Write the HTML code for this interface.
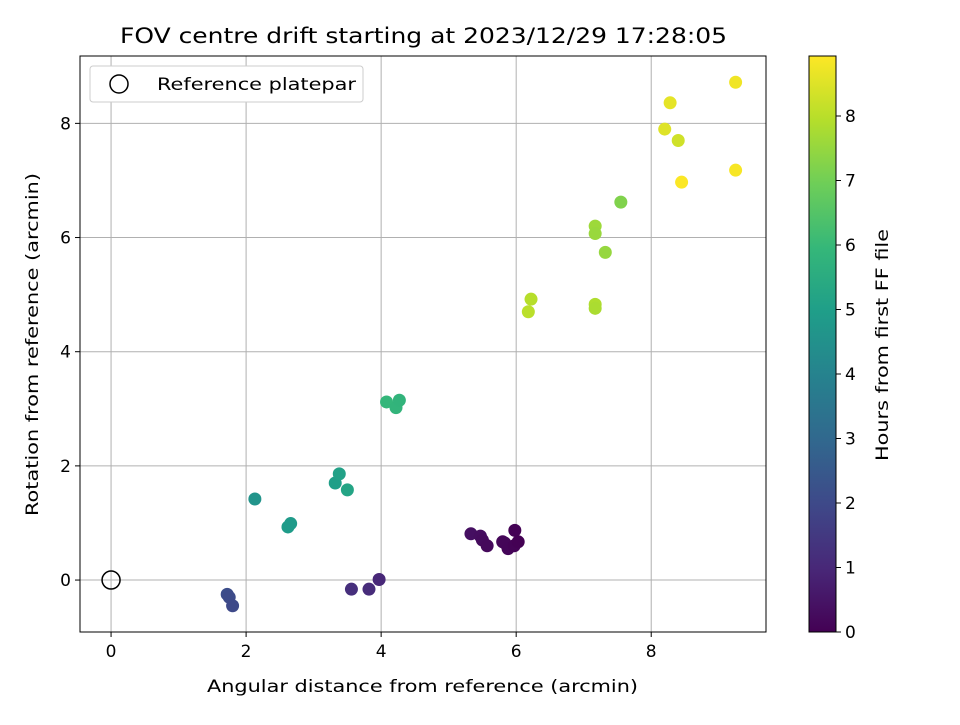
<!DOCTYPE html>
<html><head><meta charset="utf-8"><style>
body{margin:0;background:#fff;font-family:"Liberation Sans","DejaVu Sans",sans-serif}
svg text{font-family:"DejaVu Sans","Liberation Sans",sans-serif;fill:#000}
</style></head><body>
<svg id="c" width="960" height="720" xmlns="http://www.w3.org/2000/svg">
<defs><linearGradient id="vg" x1="0" y1="1" x2="0" y2="0">
<stop offset="0" stop-color="#440154"/><stop offset="0.111" stop-color="#482878"/><stop offset="0.222" stop-color="#3e4989"/><stop offset="0.333" stop-color="#31688e"/><stop offset="0.444" stop-color="#26828e"/><stop offset="0.556" stop-color="#1f9e89"/><stop offset="0.667" stop-color="#35b779"/><stop offset="0.778" stop-color="#6ece58"/><stop offset="0.889" stop-color="#b5de2b"/><stop offset="1" stop-color="#fde725"/></linearGradient></defs>
</svg>
<script>
const xs=[5.33,5.47,5.5,5.57,5.8,5.83,5.88,5.97,5.98,6.03,3.56,3.82,3.97,1.72,1.75,1.8,2.13,2.62,2.66,3.32,3.38,3.5,4.08,4.22,4.27,6.18,6.22,7.17,7.17,7.17,7.17,7.32,7.55,8.2,8.28,8.4,8.45,9.25,9.25];
const ys=[0.81,0.77,0.7,0.6,0.67,0.65,0.55,0.6,0.87,0.67,-0.16,-0.16,0.01,-0.25,-0.3,-0.45,1.42,0.93,0.99,1.7,1.86,1.58,3.12,3.02,3.15,4.7,4.92,4.83,4.76,6.2,6.07,5.74,6.62,7.9,8.36,7.7,6.97,8.72,7.18];
const hours=[0.35,0.3,0.25,0.2,0.15,0.12,0.1,0.05,0.02,0.0,1.2,1.1,1.0,2.1,2.05,2.0,4.6,4.9,4.85,5.0,5.1,5.2,5.9,5.85,5.8,8.0,7.95,7.85,7.8,7.6,7.55,7.5,7.2,8.5,8.6,8.3,8.9,8.75,8.85];
const xTicks=[0,2,4,6,8], yTicks=[0,2,4,6,8], cTicks=[0,1,2,3,4,5,6,7,8];
const L=80,R=766,T=56,B=632,xmin=-0.46,xmax=9.7,ymin=-0.91,ymax=9.18,cmax=8.93;
const X=v=>L+(v-xmin)/(xmax-xmin)*(R-L), Y=v=>B-(v-ymin)/(ymax-ymin)*(B-T);
const CB=v=>632-v/cmax*576;
const V=[[68,1,84],[72,40,120],[62,73,137],[49,104,142],[38,130,142],[31,158,137],[53,183,121],[110,206,88],[181,222,43],[253,231,37]];
function vir(t){t=Math.max(0,Math.min(1,t))*9;const i=Math.min(8,Math.floor(t)),f=t-i;return 'rgb('+V[i].map((a,k)=>Math.round(a+(V[i+1][k]-a)*f)).join(',')+')';}
const s=document.getElementById('c');const NS='http://www.w3.org/2000/svg';
function el(t,a,p){const e=document.createElementNS(NS,t);for(const k in a)e.setAttribute(k,a[k]);(p||s).appendChild(e);return e;}
function tx(x,y,str,a){const e=el('text',Object.assign({x:x,y:y,'font-size':17},a||{}));e.textContent=str;return e;}
xTicks.forEach(v=>{const g=el('line',{x1:X(v),x2:X(v),y1:T,y2:B,stroke:'#b0b0b0','stroke-width':1});
el('line',{x1:X(v),x2:X(v),y1:B,y2:B+5,stroke:'#000'});const t=tx(X(v),B+25,String(v),{'text-anchor':'middle'});});
yTicks.forEach(v=>{const g=el('line',{x1:L,x2:R,y1:Y(v),y2:Y(v),stroke:'#b0b0b0','stroke-width':1});
el('line',{x1:L-5,x2:L,y1:Y(v),y2:Y(v),stroke:'#000'});const t=tx(L-9,Y(v)+6,String(v),{'text-anchor':'end'});});
xs.forEach((v,i)=>{const c=el('circle',{cx:X(v),cy:Y(ys[i]),r:6.5,fill:vir(hours[i]/cmax)});});
const ref=el('circle',{cx:X(0),cy:Y(0),r:9,fill:'none',stroke:'#000','stroke-width':1.5});
const fr=el('rect',{x:L,y:T,width:R-L,height:B-T,fill:'none',stroke:'#000','stroke-width':1});
const ti=tx(120,43,'FOV centre drift starting at 2023/12/29 17:28:05',{'font-size':21,textLength:607,lengthAdjust:'spacingAndGlyphs'});
const xl=tx(207,692,'Angular distance from reference (arcmin)',{textLength:431,lengthAdjust:'spacingAndGlyphs'});
const yl=tx(0,0,'Rotation from reference (arcmin)',{transform:'translate(38,516) rotate(-90)',textLength:343,lengthAdjust:'spacingAndGlyphs'});
const lg=el('g',{});
el('rect',{x:90,y:66,width:273,height:36,rx:3,fill:'#fff',stroke:'#ccc'},lg);
el('circle',{cx:119,cy:84,r:9,fill:'none',stroke:'#000','stroke-width':1.5},lg);
const lt=el('text',{x:157,y:90,'font-size':17,textLength:199,lengthAdjust:'spacingAndGlyphs'},lg);lt.textContent='Reference platepar';
const cb=el('rect',{x:809,y:56,width:27,height:576,fill:'url(#vg)',stroke:'#000','stroke-width':1});
cTicks.forEach(v=>{el('line',{x1:836,x2:841,y1:CB(v),y2:CB(v),stroke:'#000'});const t=tx(845,CB(v)+6,String(v));});
const cl=tx(0,0,'Hours from first FF file',{transform:'translate(888,461) rotate(-90)',textLength:232,lengthAdjust:'spacingAndGlyphs'});
</script></body></html>
